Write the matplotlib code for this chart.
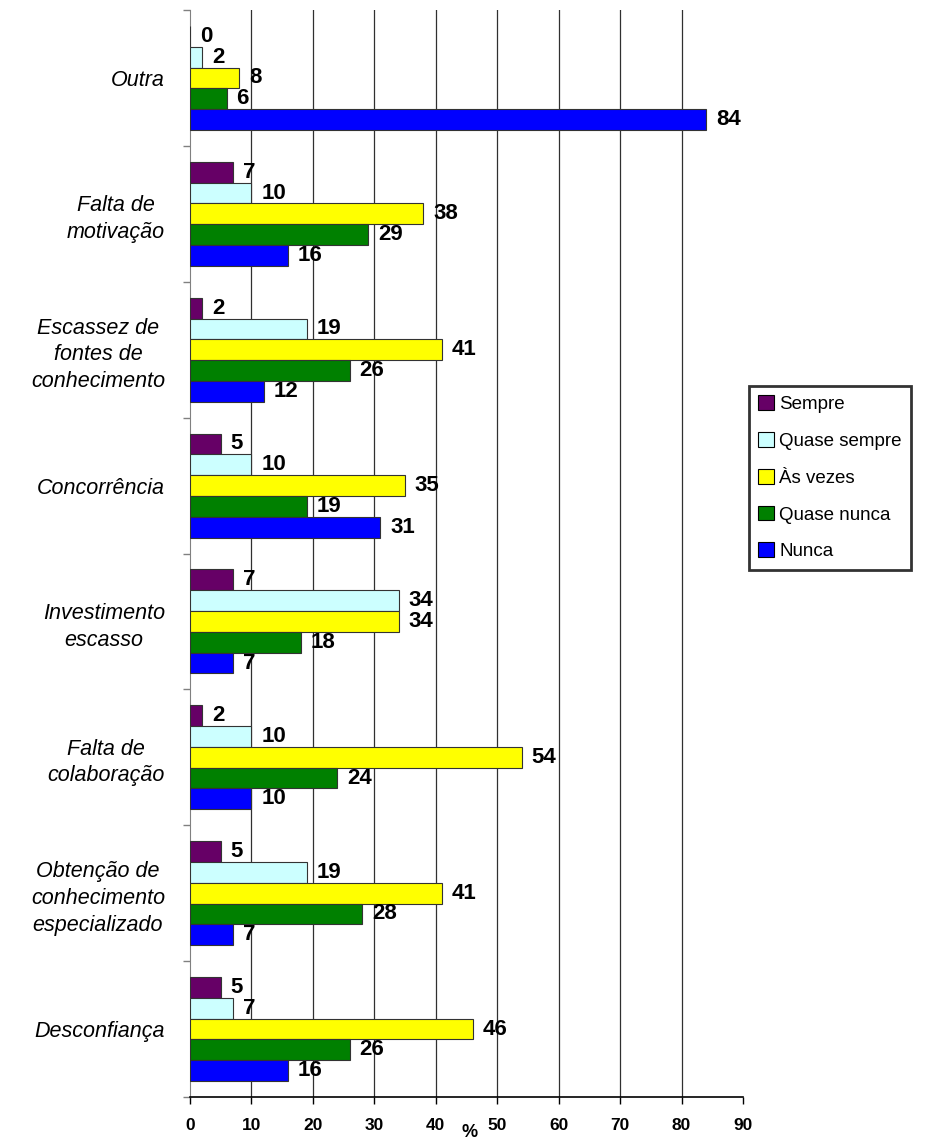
import numpy as np
import matplotlib
matplotlib.use("Agg")
import matplotlib.pyplot as plt

plt.rcParams['font.family'] = ['Liberation Sans', 'DejaVu Sans']

# categories, top to bottom
categories = ["Outra", "Falta de\nmotivação", "Escassez de\nfontes de\nconhecimento",
              "Concorrência", "Investimento\nescasso", "Falta de\ncolaboração",
              "Obtenção de\nconhecimento\nespecializado", "Desconfiança"]

series = ["Sempre", "Quase sempre", "Às vezes", "Quase nunca", "Nunca"]
colors = ["#660066", "#CCFFFF", "#FFFF00", "#008000", "#0000FF"]

sempre = [0, 7, 2, 5, 7, 2, 5, 5]
quase_sempre = [2, 10, 19, 10, 34, 10, 19, 7]
as_vezes = [8, 38, 41, 35, 34, 54, 41, 46]
quase_nunca = [6, 29, 26, 19, 18, 24, 28, 26]
nunca = [84, 16, 12, 31, 7, 10, 7, 16]

values = [sempre, quase_sempre, as_vezes, quase_nunca, nunca]

fig = plt.figure(figsize=(9.3, 11.41), dpi=100)
ax = fig.add_axes([190 / 930, 1 - 1097 / 1141, 553 / 930, 1087 / 1141])

n = len(categories)
h = 0.153
centers = np.arange(n) + 0.5

for k, (name, vals, col) in enumerate(zip(series, values, colors)):
    ypos = centers + (k - 2) * h
    ax.barh(ypos, vals, height=h, color=col, edgecolor="#333333",
            linewidth=0.8, label=name, zorder=3)
    for y, v in zip(ypos, vals):
        ax.annotate(str(v), (v, y), xytext=(7, 0), textcoords="offset points",
                    ha="left", va="center", fontsize=16, fontweight="bold",
                    zorder=4)

ax.set_xlim(0, 90)
ax.set_ylim(n, 0)

ax.set_xticks(np.arange(0, 91, 10))
ax.tick_params(axis="x", length=5, width=1, pad=10, labelsize=12.5)
for t in ax.get_xticklabels():
    t.set_fontweight("bold")

# group boundaries get the small ticks, names sit at the group centers
ax.set_yticks(np.arange(n + 1))
ax.set_yticklabels([])
ax.set_yticks(centers, minor=True)
ax.set_yticklabels(categories, minor=True)
ax.tick_params(axis="y", which="major", length=5, width=1, color="#808080")
ax.tick_params(axis="y", which="minor", length=0, pad=18, labelsize=15.5)
for t in ax.get_yticklabels(minor=True):
    t.set_fontstyle("italic")
    t.set_multialignment("center")
    t.set_linespacing(1.35)

for x in range(10, 90, 10):
    ax.axvline(x, color="#303030", linewidth=0.9, zorder=1)

ax.spines["top"].set_visible(False)
ax.spines["right"].set_visible(False)
ax.spines["left"].set_color("#808080")
ax.spines["bottom"].set_color("black")
ax.spines["bottom"].set_linewidth(1.2)

ax.set_xlabel("%", fontsize=13, fontweight="bold")
ax.xaxis.set_label_coords(45.5 / 90, -0.025)

leg = fig.legend(loc="upper left", bbox_to_anchor=(749 / 930, 1 - 386 / 1141),
                 fontsize=13.5, frameon=True, fancybox=False, handlelength=0.85,
                 handleheight=0.85, handletextpad=0.25, labelspacing=1.0,
                 borderpad=0.5, borderaxespad=0)
leg.get_frame().set_edgecolor("black")
leg.get_frame().set_linewidth(2)
for p in leg.get_patches():
    p.set_edgecolor("black")

fig.savefig("out.png", dpi=100)
